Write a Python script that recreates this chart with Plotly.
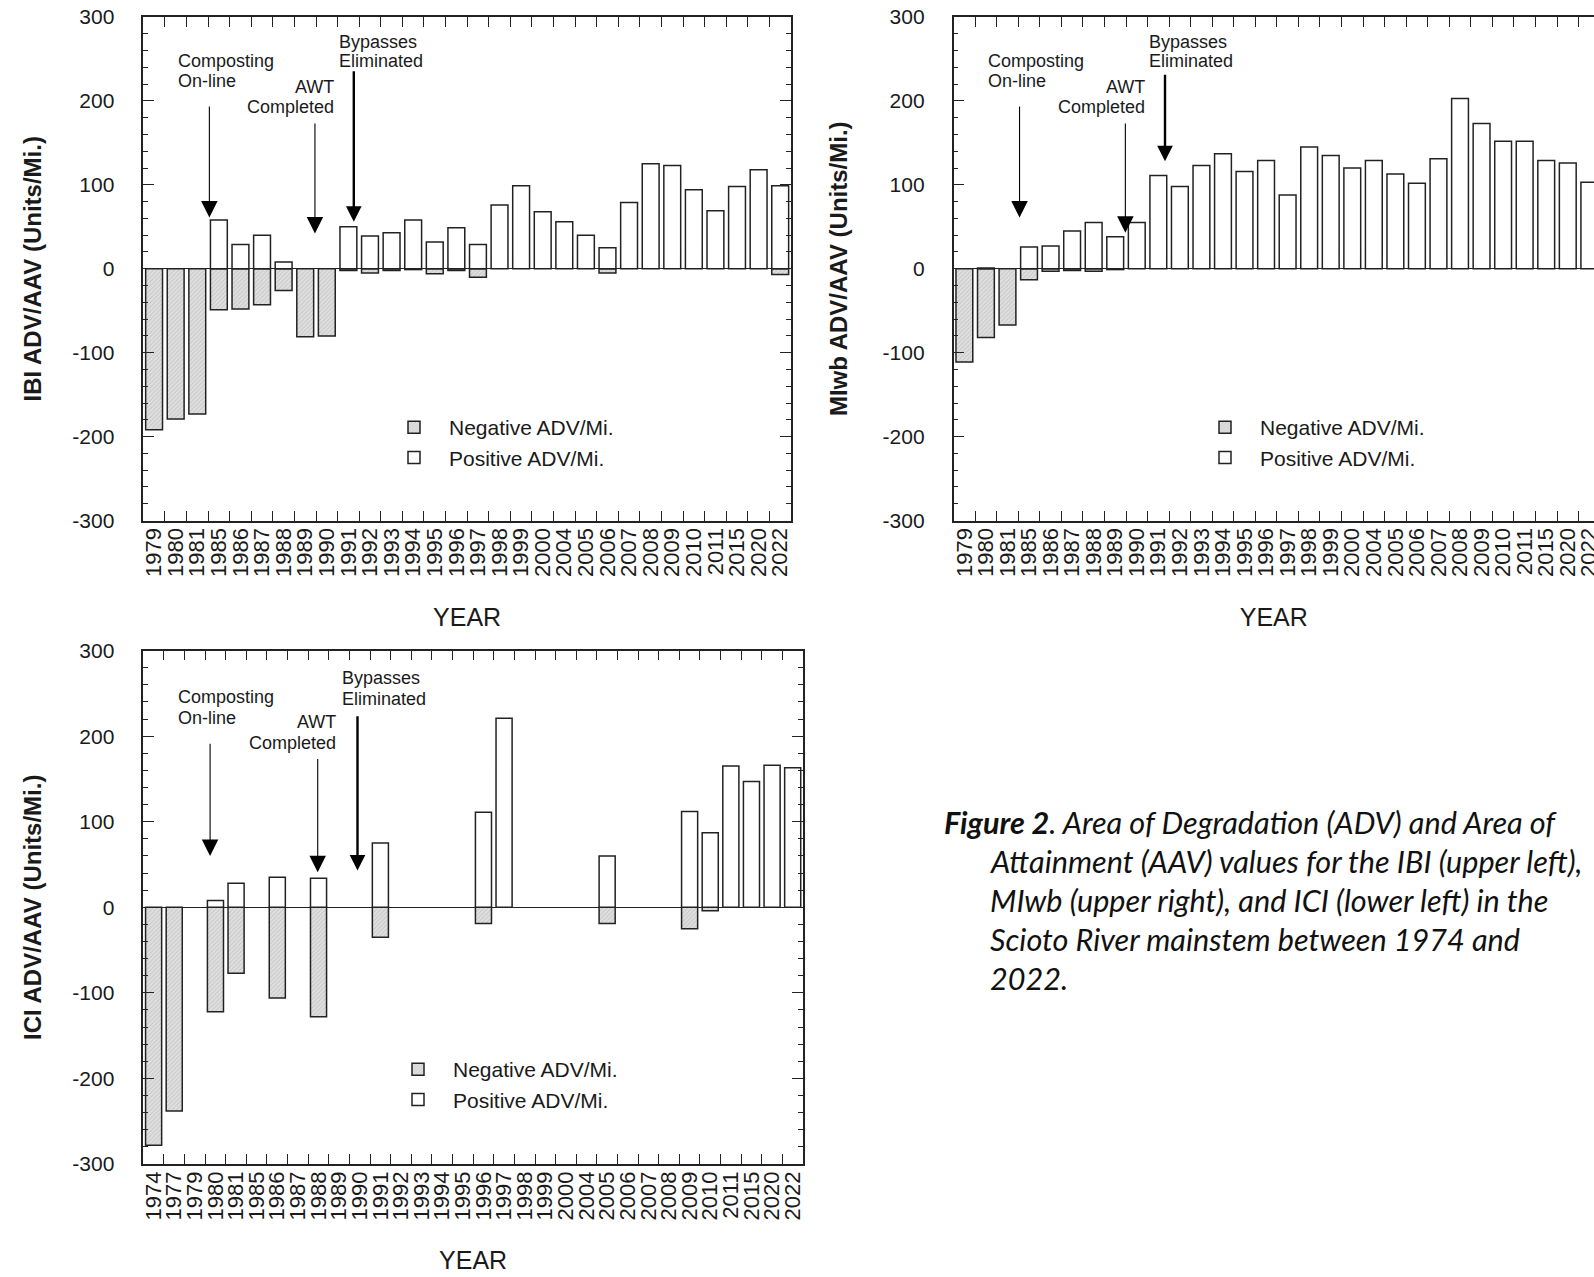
import plotly.graph_objects as go

W, H = 1594, 1277

# ---- data -------------------------------------------------------------
ibi_years = ["1979", "1980", "1981", "1985", "1986", "1987", "1988", "1989", "1990",
             "1991", "1992", "1993", "1994", "1995", "1996", "1997", "1998", "1999",
             "2000", "2004", "2005", "2006", "2007", "2008", "2009", "2010", "2011",
             "2015", "2020", "2022"]
ibi_neg = [-192, -179, -173, -49, -48, -43, -26, -81, -80,
           -2, -5, -2, -1, -6, -2, -10, 0, 0,
           0, 0, 0, -5, 0, 0, 0, 0, 0,
           0, 0, -7]
ibi_pos = [0, 0, 0, 58, 29, 40, 8, 0, 0,
           50, 39, 43, 58, 32, 49, 29, 76, 99,
           68, 56, 40, 25, 79, 125, 123, 94, 69,
           98, 118, 99]

miwb_years = list(ibi_years)
miwb_neg = [-111, -82, -67, -13, -3, -2, -3, -1, 0,
            0, 0, 0, 0, 0, 0, 0, 0, 0,
            0, 0, 0, 0, 0, 0, 0, 0, 0,
            0, 0, 0]
miwb_pos = [0, 1, 0, 26, 27, 45, 55, 38, 55,
            111, 98, 123, 137, 116, 129, 88, 145, 135,
            120, 129, 113, 102, 131, 203, 173, 152, 152,
            129, 126, 103]

ici_years = ["1974", "1977", "1979", "1980", "1981", "1985", "1986", "1987", "1988",
             "1989", "1990", "1991", "1992", "1993", "1994", "1995", "1996", "1997",
             "1998", "1999", "2000", "2004", "2005", "2006", "2007", "2008", "2009",
             "2010", "2011", "2015", "2020", "2022"]
ici_neg = [-278, -238, 0, -122, -77, 0, -106, 0, -128,
           0, 0, -35, 0, 0, 0, 0, -19, 0,
           0, 0, 0, 0, -19, 0, 0, 0, -25,
           -4, 0, 0, 0, 0]
ici_pos = [0, 0, 0, 8, 28, 0, 35, 0, 34,
           0, 0, 75, 0, 0, 0, 0, 111, 221,
           0, 0, 0, 0, 60, 0, 0, 0, 112,
           87, 165, 147, 166, 163]

y_tickvals = [-300, -200, -100, 0, 100, 200, 300]
y_ticktext = ["-300", "-200", "-100", "0", "100", "200", "300"]

y_titles = ["IBI ADV/AAV (Units/Mi.)", "MIwb ADV/AAV (Units/Mi.)", "ICI ADV/AAV (Units/Mi.)"]
x_title = "YEAR"
legend_names = ["Negative ADV/Mi.", "Positive ADV/Mi."]

caption_lines = [
    "<b>Figure 2</b>. Area of Degradation (ADV) and Area of",
    "Attainment (AAV) values for the IBI (upper left),",
    "MIwb (upper right), and ICI (lower left) in the",
    "Scioto River mainstem between 1974 and",
    "2022.",
]

# event arrows per panel: (x in category units, tail value, tip value, line width)
events = {
    "ibi": [(2.56, 195, 61, 1.1), (7.45, 175, 42, 1.1), (9.25, 237, 56, 2.4)],
    "miwb": [(2.56, 195, 61, 1.1), (7.47, 175, 43, 1.1), (9.31, 233, 128, 2.4)],
    "ici": [(2.74, 193, 60, 1.1), (7.96, 175, 41, 1.1), (9.89, 225, 43, 2.4)],
}
# event labels: (text, x, y, anchor)
event_text = {
    "ibi": [("Composting", 1.01, 247, "left"), ("On-line", 1.01, 224, "left"),
            ("AWT", 8.44, 217, "right"), ("Completed", 8.44, 193, "right"),
            ("Bypasses", 8.46, 270, "left"), ("Eliminated", 8.46, 247, "left")],
    "miwb": [("Composting", 1.01, 247, "left"), ("On-line", 1.01, 224, "left"),
             ("AWT", 8.46, 217, "right"), ("Completed", 8.46, 193, "right"),
             ("Bypasses", 8.47, 270, "left"), ("Eliminated", 8.47, 247, "left")],
    "ici": [("Composting", 1.09, 246, "left"), ("On-line", 1.09, 221, "left"),
            ("AWT", 8.95, 217, "right"), ("Completed", 8.95, 192, "right"),
            ("Bypasses", 9.02, 268, "left"), ("Eliminated", 9.02, 244, "left")],
}

# ---- styling ----------------------------------------------------------
FONT = "Liberation Sans, Arial, sans-serif"
INK = "#1a1a1a"
EDGE = "#222222"
NEG_FILL = "#e0e0e0"
BAR_W = 0.78


def px_x(p):
    return p / W


def px_y(p):
    return 1 - p / H


def bars_only(vals):
    # years without a measured area get no bar at all
    return [v if v != 0 else None for v in vals]


panels = [
    # key, years, neg, pos, x id, y id, x domain px, y domain px, legend id, legend pos px, title standoff
    ("ibi", ibi_years, ibi_neg, ibi_pos, "x", "y", (143.3, 791.0), (17.0, 520.5), "legend", (379, 407), 24),
    ("miwb", miwb_years, miwb_neg, miwb_pos, "x2", "y2", (953.6, 1594.0), (17.0, 520.5), "legend2", (1190, 407), 28),
    ("ici", ici_years, ici_neg, ici_pos, "x3", "y3", (143.3, 803.0), (650.6, 1164.0), "legend3", (383, 1049), 24),
]

fig = go.Figure()
layout = dict(
    width=W, height=H, autosize=False,
    margin=dict(l=0, r=0, t=0, b=0, autoexpand=False),
    paper_bgcolor="white", plot_bgcolor="white",
    barmode="overlay",
    font=dict(family=FONT, color=INK, size=21),
    annotations=[],
)

for i, (key, years, neg, pos, xa, ya, xd, yd, leg, lpos, ystand) in enumerate(panels):
    fig.add_trace(go.Bar(
        x=years, y=bars_only(neg), name=legend_names[0], width=BAR_W,
        xaxis=xa, yaxis=ya, legend=leg,
        marker=dict(color=NEG_FILL, line=dict(color=EDGE, width=1.5),
                    pattern=dict(shape="/", fgcolor="#a6a6a6", bgcolor=NEG_FILL,
                                 size=3, solidity=0.3)),
    ))
    fig.add_trace(go.Bar(
        x=years, y=bars_only(pos), name=legend_names[1], width=BAR_W,
        xaxis=xa, yaxis=ya, legend=leg,
        marker=dict(color="white", line=dict(color=EDGE, width=1.5)),
    ))

    n = len(years)
    if key == "miwb":
        # this panel runs off the right edge of the page
        slot = 21.55
        xr = [-0.5, -0.5 + (xd[1] - xd[0]) / slot]
    else:
        xr = [-0.5, n - 0.5]

    xname = "xaxis" if xa == "x" else "xaxis" + xa[1:]
    yname = "yaxis" if ya == "y" else "yaxis" + ya[1:]
    layout[xname] = dict(
        domain=[px_x(xd[0]), px_x(xd[1])], anchor=ya, automargin=False,
        type="category", categoryorder="array", categoryarray=years,
        range=xr, tickmode="linear", tick0=0, dtick=1, tickson="boundaries",
        ticks="inside", ticklen=10, tickwidth=1.2, tickcolor=EDGE,
        showline=True, linecolor=EDGE, linewidth=1.5, mirror="ticks",
        tickangle=-90, tickfont=dict(size=22, family=FONT, color=INK),
        ticklabelstandoff=-3,
        showgrid=False, zeroline=False, fixedrange=True,
        title=dict(text=x_title, font=dict(family=FONT, size=25, color=INK), standoff=32),
    )
    layout[yname] = dict(
        domain=[px_y(yd[1]), px_y(yd[0])], anchor=xa, automargin=False,
        range=[-300, 300], tickmode="array", tickvals=y_tickvals, ticktext=y_ticktext,
        ticks="inside", ticklen=11, tickwidth=1.2, tickcolor=EDGE,
        minor=dict(tickmode="linear", tick0=0, dtick=20, ticks="inside",
                   ticklen=5, tickwidth=1.0, tickcolor=EDGE),
        showline=True, linecolor=EDGE, linewidth=1.5,
        mirror=False if key == "miwb" else "ticks",
        zeroline=True, zerolinecolor=EDGE, zerolinewidth=1.2,
        showgrid=False, fixedrange=True,
        tickfont=dict(size=21, family=FONT, color=INK),
        ticklabelstandoff=23,
        title=dict(text="<b>" + y_titles[i] + "</b>",
                   font=dict(size=24, family=FONT, color=INK), standoff=ystand),
    )
    layout[leg] = dict(
        x=px_x(lpos[0]), y=px_y(lpos[1]), xanchor="left", yanchor="top",
        bgcolor="rgba(0,0,0,0)", borderwidth=0, itemwidth=60,
        font=dict(size=21, family=FONT, color=INK),
        traceorder="normal", itemclick=False, itemdoubleclick=False,
    )

    # event arrows and their labels
    for (ex, tail, tip, lw) in events[key]:
        layout["annotations"].append(dict(
            xref=xa, yref=ya, axref=xa, ayref=ya,
            x=ex, y=tip, ax=ex, ay=tail, text="",
            showarrow=True, arrowhead=2, arrowcolor="black",
            arrowwidth=lw, arrowsize=1.3 if lw > 2 else 3.0,
            standoff=0, startstandoff=0,
        ))
    for (txt, tx, ty, anc) in event_text[key]:
        layout["annotations"].append(dict(
            xref=xa, yref=ya, x=tx, y=ty, text=txt, showarrow=False,
            xanchor=anc, yanchor="middle",
            font=dict(size=18, family=FONT, color=INK),
        ))

# figure caption with a hanging indent
cap_y = [822.5, 861.0, 900.0, 939.0, 978.0]
for j, line in enumerate(caption_lines):
    layout["annotations"].append(dict(
        xref="paper", yref="paper",
        x=px_x(942 if j == 0 else 988), y=px_y(cap_y[j]),
        text="<i>" + line + "</i>", showarrow=False,
        xanchor="left", yanchor="middle",
        font=dict(size=30.6, family="Lato, Carlito, sans-serif", color="#111111"),
    ))

fig.update_layout(**layout)
fig.write_html("out.html")
